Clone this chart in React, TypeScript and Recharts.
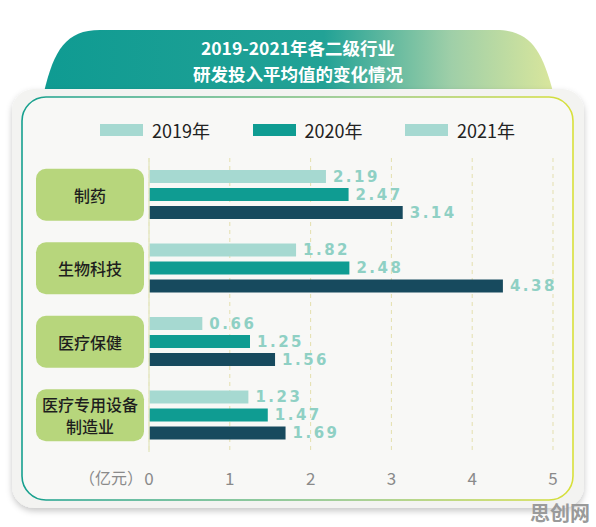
import { BarChart, Bar, XAxis, YAxis, CartesianGrid, LabelList } from 'recharts'

const categories = ['制药', '生物科技', '医疗保健', '医疗专用设备\n制造业']
const v2019 = [2.19, 1.82, 0.66, 1.23]
const v2020 = [2.47, 2.48, 1.25, 1.47]
const v2021 = [3.14, 4.38, 1.56, 1.69]
const xTicks = [0, 1, 2, 3, 4, 5]
const seriesNames = ['2019年', '2020年', '2021年']
const seriesColors = ['#a6d9d1', '#0f9c92', '#174a5e']
// the original legend draws the 2021 swatch in the light colour
const legendColors = ['#a6d9d1', '#0f9c92', '#a6d9d1']

const data = categories.map((name, i) => ({ name, y2019: v2019[i], y2020: v2020[i], y2021: v2021[i] }))
const keys = ['y2019', 'y2020', 'y2021']

const FONT = '"Noto Sans CJK SC", "Noto Sans", sans-serif'

const CategoryTick = (props: any) => {
    const { x, y, payload } = props
    const lines = String(payload.value).split('\n')
    return (
        <g>
            <rect x={x - 113} y={y - 26} width={108} height={52} rx={10} fill="#b7d67c" />
            {lines.map((ln, i) => (
                <text
                    key={i}
                    x={x - 59}
                    y={y + (i - (lines.length - 1) / 2) * 22}
                    textAnchor="middle"
                    dominantBaseline="central"
                    fontSize={16}
                    fontWeight={500}
                    fill="#1e1e1e"
                    fontFamily={FONT}
                >
                    {ln}
                </text>
            ))}
        </g>
    )
}

const ValueTick = (props: any) => {
    const { x, y, payload } = props
    return (
        <g>
            {payload.value === 0 && (
                <text x={x - 6} y={y + 17} textAnchor="end" dominantBaseline="central" fontSize={16} fill="#8a8a8a" fontFamily={FONT}>
                    （亿元）
                </text>
            )}
            <text x={x} y={y + 17} textAnchor="middle" dominantBaseline="central" fontSize={17} fill="#8a8a8a" fontFamily={FONT}>
                {payload.value}
            </text>
        </g>
    )
}

const LegendRow = () => (
    <div style={{ position: 'absolute', left: 0, top: 118, width: 596, height: 24, fontFamily: FONT }}>
        {seriesNames.map((n, i) => (
            <div key={n} style={{ position: 'absolute', left: 100 + i * 152.5, top: 0, display: 'flex', alignItems: 'center' }}>
                <span style={{ display: 'inline-block', width: 43, height: 12, background: legendColors[i], marginRight: 9 }} />
                <span style={{ fontSize: 18, color: '#222', lineHeight: '24px' }}>{n}</span>
            </div>
        ))}
    </div>
)

const App = () => {
    return (
        <div style={{ position: 'absolute', left: 0, top: 0, width: 596, height: 527, background: '#fff', overflow: 'hidden' }}>
            <svg width={596} height={527} style={{ position: 'absolute', left: 0, top: 0 }}>
                <defs>
                    <linearGradient id="headGrad" x1="0" y1="0" x2="1" y2="0">
                        <stop offset="0%" stopColor="#0f9b92" />
                        <stop offset="55%" stopColor="#22a296" />
                        <stop offset="80%" stopColor="#9fcfa8" />
                        <stop offset="100%" stopColor="#d9e69c" />
                    </linearGradient>
                    <linearGradient id="borderGrad" x1="0" y1="0" x2="1" y2="0">
                        <stop offset="0%" stopColor="#16a08f" />
                        <stop offset="60%" stopColor="#8ec47a" />
                        <stop offset="100%" stopColor="#d8e03a" />
                    </linearGradient>
                    <filter id="shadow" x="-5%" y="-5%" width="110%" height="115%">
                        <feDropShadow dx="0" dy="3" stdDeviation="3" floodColor="#000" floodOpacity="0.22" />
                    </filter>
                </defs>
                <path d="M44,92 C54,50 66,30 100,30 L496,30 C530,30 542,50 553,92 Z" fill="url(#headGrad)" />
                <text x={298} y={47} textAnchor="middle" dominantBaseline="central" fill="#fff" fontSize={17.5} fontWeight={700} fontFamily={FONT}>
                    2019-2021年各二级行业
                </text>
                <text x={298} y={73} textAnchor="middle" dominantBaseline="central" fill="#fff" fontSize={17.5} fontWeight={700} fontFamily={FONT}>
                    研发投入平均值的变化情况
                </text>
                <rect x={12} y={89} width={572} height={419} rx={22} fill="#f3f3f1" filter="url(#shadow)" />
                <rect x={22} y={97} width={551} height={403} rx={24} fill="#f8f8f6" stroke="url(#borderGrad)" strokeWidth={1.6} />
            </svg>
            <LegendRow />
            <div style={{ position: 'absolute', left: 0, top: 0 }}>
                <BarChart
                    width={596}
                    height={527}
                    data={data}
                    layout="vertical"
                    margin={{ top: 158, right: 43, left: 29, bottom: 45 }}
                    barSize={13}
                    barGap={5}
                >
                    <CartesianGrid horizontal={false} stroke="#e4dfae" strokeDasharray="4 4" />
                    <XAxis
                        type="number"
                        domain={[0, 5]}
                        ticks={xTicks}
                        axisLine={false}
                        tickLine={false}
                        height={30}
                        tick={<ValueTick />}
                        interval={0}
                    />
                    <YAxis
                        type="category"
                        dataKey="name"
                        width={120}
                        axisLine={{ stroke: '#e6e8c6', strokeWidth: 1.5 }}
                        tickLine={false}
                        tickSize={0}
                        tickMargin={0}
                        tick={<CategoryTick />}
                        interval={0}
                    />
                    {keys.map((k, i) => (
                        <Bar key={k} dataKey={k} name={seriesNames[i]} fill={seriesColors[i]} isAnimationActive={false}>
                            <LabelList
                                dataKey={k}
                                position="right"
                                offset={7}
                                formatter={(v: any) => Number(v).toFixed(2)}
                                fill="#8fd0c4"
                                fontSize={15}
                                fontWeight={700}
                                fontFamily='"DejaVu Sans", sans-serif'
                                style={{ letterSpacing: 2.5 }}
                            />
                        </Bar>
                    ))}
                </BarChart>
            </div>
            <div
                style={{
                    position: 'absolute',
                    left: 530,
                    top: 498,
                    fontSize: 20,
                    fontWeight: 700,
                    color: '#9a9a9a',
                    fontFamily: FONT,
                }}
            >
                思创网
            </div>
        </div>
    )
}

export default App
